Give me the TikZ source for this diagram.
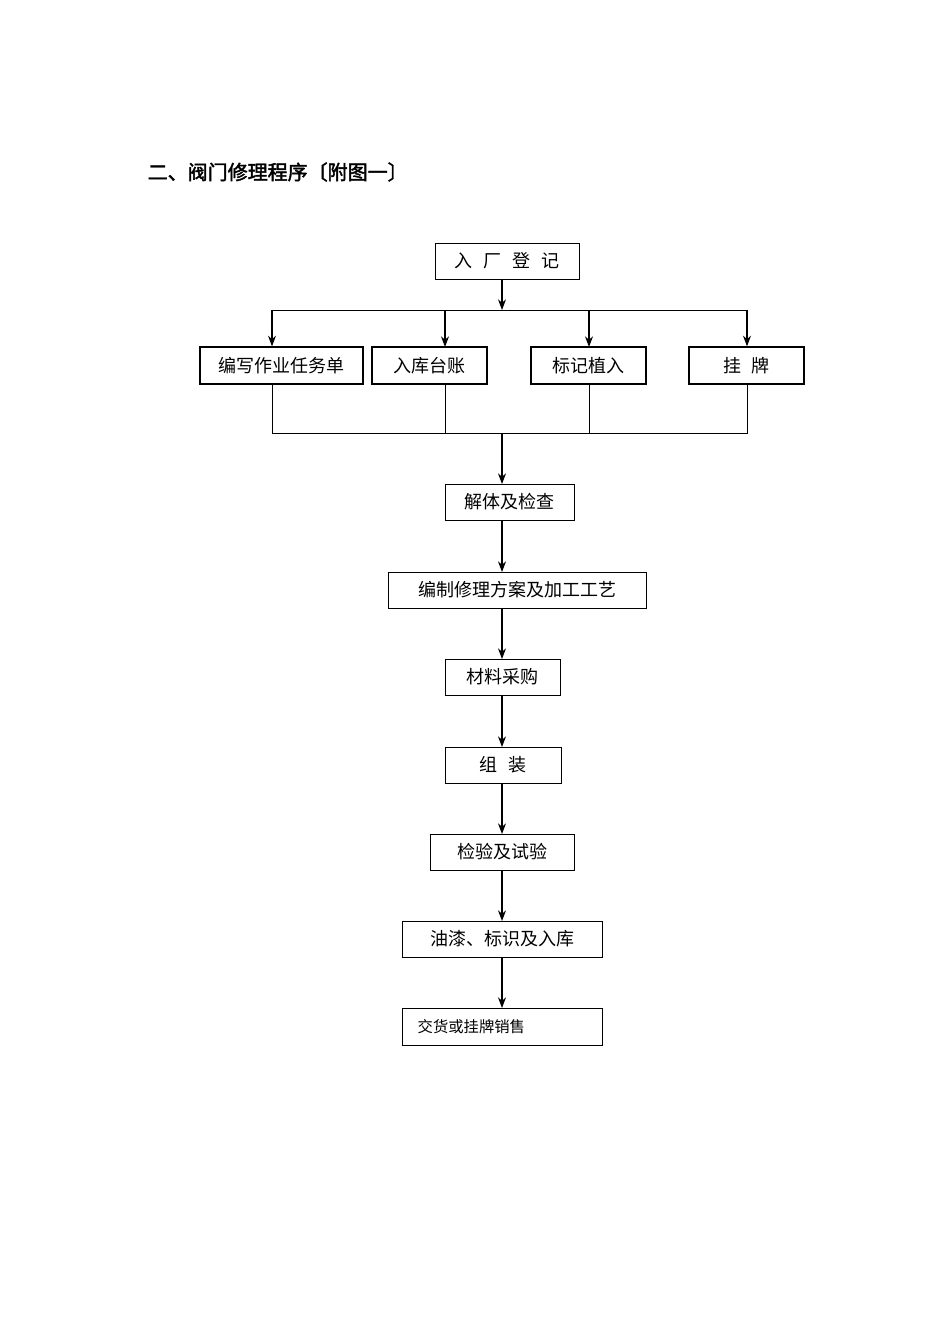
\documentclass[tikz,border=0pt]{standalone}
\usepackage{fontspec}
\newfontfamily\cjk{Noto Sans CJK SC}
\newfontfamily\cjkb{Noto Sans CJK SC}[FakeBold=2]
\usetikzlibrary{arrows.meta}
\begin{document}
\begin{tikzpicture}[x=0.75pt,y=-0.75pt,
  bx/.style={draw,line width=0.6pt,inner sep=0pt,font=\cjk\fontsize{13.5}{14}\selectfont},
  bxt/.style={bx,line width=1pt},
  ar/.style={-{Stealth[length=8pt,width=6pt]},line width=0.8pt},
  ln/.style={line width=0.5pt}]
\useasboundingbox (0,0) rectangle (950,1344);
\node[anchor=west,font=\cjkb\fontsize{15}{16}\selectfont] (title) at (143,172) {二、阀门修理程序〔附图一〕};
\newcommand\mybox[6]{\node[#6,minimum width={(#3-#2)*0.75pt},minimum height={(#5-#4)*0.75pt}] (#1) at ({(#2+#3)/2},{(#4+#5)/2})}
\mybox{a}{435}{579}{243}{279}{bx} {入\hspace{0.6em}厂\hspace{0.6em}登\hspace{0.6em}记};
\mybox{b1}{200}{363}{347}{384}{bxt} {编写作业任务单};
\mybox{b2}{372}{487}{347}{384}{bxt} {入库台账};
\mybox{b3}{531}{646}{347}{384}{bxt} {标记植入};
\mybox{b4}{689}{804}{347}{384}{bxt} {挂\hspace{0.6em}牌};
\mybox{c}{445}{574}{484}{520}{bx} {解体及检查};
\mybox{d}{388}{646}{572}{608}{bx} {编制修理方案及加工工艺};
\mybox{e}{445}{560}{659}{695}{bx} {材料采购};
\mybox{f}{445}{561}{747}{783}{bx} {组\hspace{0.6em}装};
\mybox{g}{430}{574}{834}{870}{bx} {检验及试验};
\mybox{h}{402}{602}{921}{957}{bx} {油漆、标识及入库};
\node[bx,minimum width={200*0.75pt},minimum height={37*0.75pt},anchor=north west] (k) at (402,1008) {};
\node[anchor=west,font=\cjk\fontsize{11.5}{12}\selectfont] (kt) at (413,1027) {交货或挂牌销售};
\coordinate (t0) at (502,279);
\coordinate (t1) at (502,310);
\coordinate (tl) at (272,310);
\coordinate (tr) at (747,310);
\coordinate (bl) at (272,433);
\coordinate (br) at (747,433);
\coordinate (bm) at (502,433);
\draw[ar] (t0) -- (t1);
\draw[ln] (tl) -- (tr);
\draw[ar] (tl) -- (tl|-b1.north);
\draw[ar] (445,310) -- (445,347);
\draw[ar] (589,310) -- (589,347);
\draw[ar] (tr) -- (tr|-b4.north);
\draw[ln] (272,384) -- (bl) -- (br) -- (747,384);
\draw[ln] (445,384) -- (445,433);
\draw[ln] (589,384) -- (589,433);
\draw[ar] (bm) -- (502,484);
\draw[ar] (502,520) -- (502,572);
\draw[ar] (502,608) -- (502,659);
\draw[ar] (502,695) -- (502,747);
\draw[ar] (502,783) -- (502,834);
\draw[ar] (502,870) -- (502,921);
\draw[ar] (502,957) -- (502,1008);
\end{tikzpicture}
\end{document}
